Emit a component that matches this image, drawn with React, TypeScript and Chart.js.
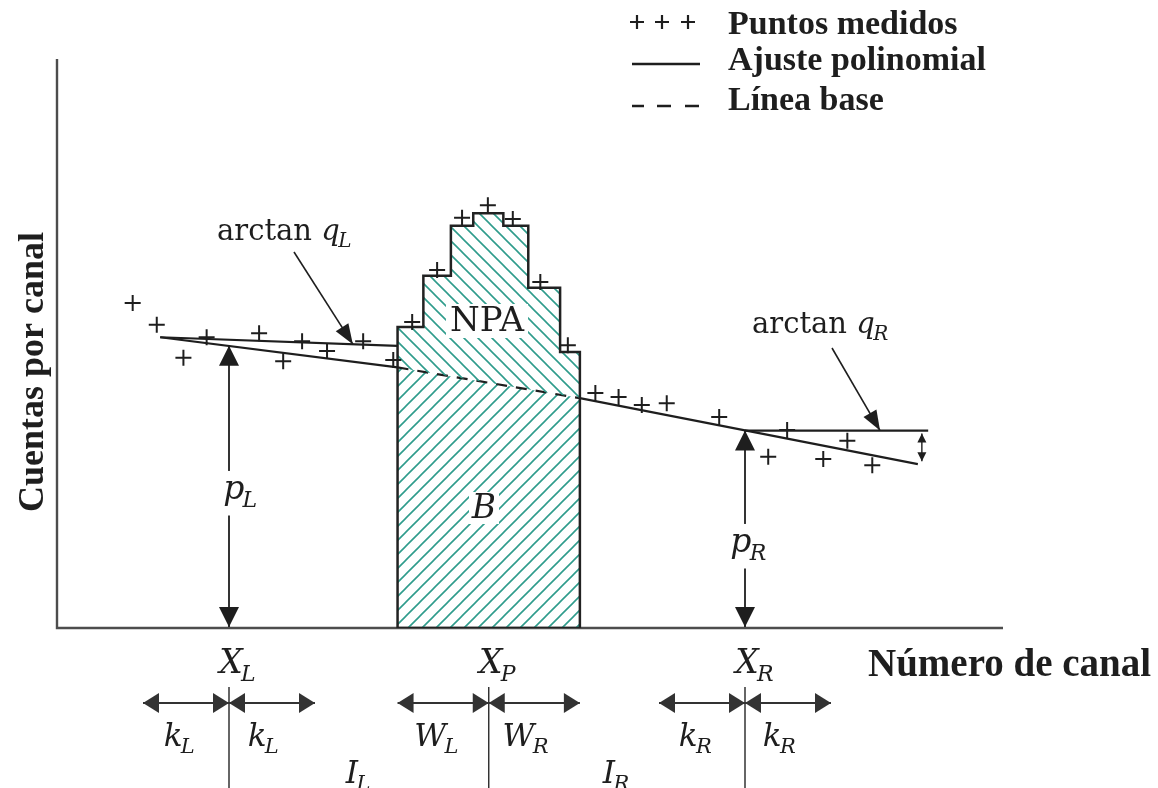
import { useEffect, useRef } from 'react';
import { Chart, registerables } from 'chart.js';

Chart.register(...registerables);

// ---- Measured spectrum (channel number, counts per channel) ----
const measuredChannels = [
  8.8, 11.6, 14.7, 17.4, 23.5, 26.3, 28.5, 31.4, 35.6, 39.1,
  41.3, 44.2, 47.1, 50.1, 53.0, 56.2, 59.4,
  62.6, 65.3, 68.0, 70.9, 77.0, 82.7, 84.9, 89.1, 91.9, 94.8,
];
const measuredCounts = [
  57.1, 53.3, 47.5, 51.1, 51.8, 46.9, 50.4, 48.7, 50.4, 47.1,
  53.8, 62.9, 72.1, 74.3, 71.9, 60.8, 49.7,
  41.3, 40.6, 39.2, 39.5, 37.1, 30.1, 34.8, 29.7, 32.9, 28.6,
];

// ---- Peak histogram: channel edges and counts of each bin ----
const peakEdges = [39.6, 42.6, 45.8, 48.4, 51.9, 54.8, 58.5, 60.8];
const peakCounts = [52.9, 61.9, 70.7, 72.9, 70.7, 59.8, 48.5];

// ---- Baseline under the peak ----
const baseChannels = [39.6, 60.8];
const baseCounts = [45.8, 40.4];

// ---- Polynomial fits left and right of the peak ----
const leftFitChannels = [12.0, 39.6];
const leftFitCounts = [51.1, 45.8];
const leftSlopeCounts = [51.1, 49.6];
const rightFitChannels = [60.8, 100.1];
const rightFitCounts = [40.4, 28.8];
const rightSlopeChannels = [80.0, 101.3];

// ---- Reference channels and heights ----
const xL = 20.0;
const xP = 50.2;
const xR = 80.0;
const pL = 49.6;
const pR = 34.7;
const kL = 10;
const kR = 10;

const INK = '#1e1e1e';
const AXIS = '#4d4d4d';
const HATCH = '#2f9c8c';
const SERIF = "'DejaVu Serif', serif";
const TIMES = "'Liberation Serif', 'Times New Roman', serif";

function makeHatch(dir: '/' | '\\', s: number, color: string) {
  const c = document.createElement('canvas');
  c.width = s;
  c.height = s;
  const g = c.getContext('2d')!;
  g.strokeStyle = color;
  g.lineWidth = 1.6;
  g.beginPath();
  if (dir === '/') {
    g.moveTo(-1, s + 1); g.lineTo(s + 1, -1);
    g.moveTo(-2, 2); g.lineTo(2, -2);
    g.moveTo(s - 2, s + 2); g.lineTo(s + 2, s - 2);
  } else {
    g.moveTo(-1, -1); g.lineTo(s + 1, s + 1);
    g.moveTo(s - 2, -2); g.lineTo(s + 2, 2);
    g.moveTo(-2, s - 2); g.lineTo(2, s + 2);
  }
  g.stroke();
  return g.createPattern(c, 'repeat')!;
}

function head(ctx: CanvasRenderingContext2D, tx: number, ty: number, fx: number, fy: number, len: number, hw: number) {
  const a = Math.atan2(ty - fy, tx - fx);
  const bx = tx - len * Math.cos(a);
  const by = ty - len * Math.sin(a);
  const nx = -Math.sin(a) * hw;
  const ny = Math.cos(a) * hw;
  ctx.beginPath();
  ctx.moveTo(tx, ty);
  ctx.lineTo(bx + nx, by + ny);
  ctx.lineTo(bx - nx, by - ny);
  ctx.closePath();
  ctx.fill();
}

function arrowLine(
  ctx: CanvasRenderingContext2D,
  x1: number, y1: number, x2: number, y2: number,
  o: { start?: boolean; end?: boolean; len: number; hw: number; width: number; color?: string },
) {
  ctx.strokeStyle = o.color || INK;
  ctx.fillStyle = o.color || INK;
  ctx.lineWidth = o.width;
  ctx.beginPath();
  ctx.moveTo(x1, y1);
  ctx.lineTo(x2, y2);
  ctx.stroke();
  if (o.end) head(ctx, x2, y2, x1, y1, o.len, o.hw);
  if (o.start) head(ctx, x1, y1, x2, y2, o.len, o.hw);
}

// italic symbol with subscript, optionally preceded by upright text
function mathLabel(
  ctx: CanvasRenderingContext2D,
  main: string, sub: string, x: number, baseline: number, size: number,
  o: { prefix?: string; align?: 'left' | 'center' | 'main'; bg?: boolean } = {},
) {
  const prefixFont = `${size}px ${SERIF}`;
  const mainFont = `italic ${size}px ${SERIF}`;
  const subSize = Math.round(size * 0.68);
  const subFont = `italic ${subSize}px ${SERIF}`;
  ctx.font = prefixFont;
  const wp = o.prefix ? ctx.measureText(o.prefix).width : 0;
  ctx.font = mainFont;
  const wm = ctx.measureText(main).width;
  ctx.font = subFont;
  const ws = ctx.measureText(sub).width;
  const total = wp + wm + ws;
  let sx = x;
  if (o.align === 'center') sx = x - total / 2;
  if (o.align === 'main') sx = x - wm / 2;
  if (o.bg) {
    ctx.fillStyle = '#fff';
    ctx.fillRect(sx - 5, baseline - size * 0.85, total + 10, size * 1.35);
  }
  ctx.fillStyle = INK;
  ctx.textAlign = 'left';
  ctx.textBaseline = 'alphabetic';
  if (o.prefix) {
    ctx.font = prefixFont;
    ctx.fillText(o.prefix, sx, baseline);
    sx += wp;
  }
  ctx.font = mainFont;
  ctx.fillText(main, sx, baseline);
  sx += wm - size * 0.05;
  ctx.font = subFont;
  ctx.fillText(sub, sx, baseline + size * 0.24);
}

const diagramPlugin = {
  id: 'spectrumDiagram',
  beforeDatasetsDraw(chart: any) {
    const { ctx, chartArea, scales } = chart;
    const x0 = scales.x.getPixelForValue(0);
    const y0 = scales.y.getPixelForValue(0);
    ctx.save();
    ctx.strokeStyle = AXIS;
    ctx.lineWidth = 2.4;
    ctx.beginPath();
    ctx.moveTo(x0, chartArea.top);
    ctx.lineTo(x0, y0);
    ctx.lineTo(chartArea.right, y0);
    ctx.stroke();
    ctx.restore();
  },
  afterDatasetsDraw(chart: any) {
    const { ctx, scales } = chart;
    const px = (v: number) => scales.x.getPixelForValue(v);
    const py = (v: number) => scales.y.getPixelForValue(v);
    ctx.save();

    // p_L and p_R heights
    const heights: [number, number, string, number, number][] = [
      [xL, pL, 'L', 12, 499],
      [xR, pR, 'R', 4, 552],
    ];
    for (const [cx, h, s, dx, bl] of heights) {
      arrowLine(ctx, px(cx), py(h), px(cx), py(0) - 1, { start: true, end: true, len: 20, hw: 10, width: 1.8 });
      mathLabel(ctx, 'p', s, px(cx) + dx, bl, 33, { align: 'center', bg: true });
    }

    // slope indicators
    const tipL = 34.4;
    const tipLy = leftSlopeCounts[0] + (leftSlopeCounts[1] - leftSlopeCounts[0]) * (tipL - leftFitChannels[0]) / (leftFitChannels[1] - leftFitChannels[0]);
    arrowLine(ctx, 294, 252, px(tipL), py(tipLy), { end: true, len: 20, hw: 7.5, width: 1.6 });
    arrowLine(ctx, 832, 348, px(95.7), py(pR), { end: true, len: 20, hw: 7.5, width: 1.6 });
    mathLabel(ctx, 'q', 'L', 217, 240, 29, { prefix: 'arctan ' });
    mathLabel(ctx, 'q', 'R', 752, 333, 29, { prefix: 'arctan ' });

    // small angle marker at the right end
    const ax = px(rightFitChannels[1]) + 4;
    arrowLine(ctx, ax, py(pR) + 3, ax, py(rightFitCounts[1]) - 3, { start: true, end: true, len: 9, hw: 4.5, width: 1.4 });

    // area labels
    ctx.font = `34px ${SERIF}`;
    ctx.textAlign = 'center';
    ctx.textBaseline = 'alphabetic';
    const npaW = ctx.measureText('NPA').width;
    ctx.fillStyle = '#fff';
    ctx.fillRect(487 - npaW / 2 - 4, 304, npaW + 8, 34);
    ctx.fillStyle = INK;
    ctx.fillText('NPA', 487, 331);
    ctx.font = `italic 33px ${SERIF}`;
    ctx.fillStyle = '#fff';
    ctx.fillRect(469, 492, 30, 32);
    ctx.fillStyle = INK;
    ctx.fillText('B', 484, 518);

    // channel markers below the axis
    const marks: [number, string][] = [[xL, 'L'], [xP, 'P'], [xR, 'R']];
    for (const [cx, s] of marks) {
      mathLabel(ctx, 'X', s, px(cx) + 2, 673, 33, { align: 'main' });
      ctx.strokeStyle = '#333';
      ctx.lineWidth = 1.5;
      ctx.beginPath();
      ctx.moveTo(px(cx), 687);
      ctx.lineTo(px(cx), 788);
      ctx.stroke();
    }

    // window widths
    const dims: [number, number, number, string, string, string][] = [
      [xL, kL, kL, 'k', 'L', 'L'],
      [xP, xP - peakEdges[0], peakEdges[peakEdges.length - 1] - xP, 'W', 'L', 'R'],
      [xR, kR, kR, 'k', 'R', 'R'],
    ];
    const dy = 703;
    for (const [c, lw, rw, sym, s1, s2] of dims) {
      const xc = px(c);
      const xl = px(c - lw);
      const xr = px(c + rw);
      arrowLine(ctx, xl, dy, xc, dy, { start: true, end: true, len: 16, hw: 10, width: 2, color: '#333' });
      arrowLine(ctx, xc, dy, xr, dy, { start: true, end: true, len: 16, hw: 10, width: 2, color: '#333' });
      mathLabel(ctx, sym, s1, (xl + xc) / 2 - 6, 746, 31, { align: 'center' });
      mathLabel(ctx, sym, s2, (xc + xr) / 2 - 8, 746, 31, { align: 'center' });
    }
    mathLabel(ctx, 'I', 'L', (px(xL) + px(xP)) / 2, 783, 31, { align: 'center' });
    mathLabel(ctx, 'I', 'R', (px(xP) + px(xR)) / 2, 783, 31, { align: 'center' });

    // axis titles
    ctx.fillStyle = INK;
    ctx.font = `bold 39px ${TIMES}`;
    ctx.textAlign = 'left';
    ctx.fillText('Número de canal', 868, 676);
    ctx.save();
    ctx.translate(43, 372);
    ctx.rotate(-Math.PI / 2);
    ctx.font = `bold 36px ${TIMES}`;
    ctx.textAlign = 'center';
    ctx.fillText('Cuentas por canal', 0, 0);
    ctx.restore();

    // legend
    ctx.strokeStyle = INK;
    ctx.lineWidth = 2.2;
    for (const lx of [637, 662, 688]) {
      ctx.beginPath();
      ctx.moveTo(lx - 7, 22); ctx.lineTo(lx + 7, 22);
      ctx.moveTo(lx, 15); ctx.lineTo(lx, 29);
      ctx.stroke();
    }
    ctx.lineWidth = 2.5;
    ctx.beginPath();
    ctx.moveTo(632, 64); ctx.lineTo(700, 64);
    ctx.stroke();
    ctx.beginPath();
    for (const [a, b] of [[632, 644], [657, 671], [685, 699]]) {
      ctx.moveTo(a, 106); ctx.lineTo(b, 106);
    }
    ctx.stroke();
    ctx.font = `bold 34px ${TIMES}`;
    ctx.textAlign = 'left';
    ctx.fillStyle = INK;
    ctx.fillText('Puntos medidos', 728, 34);
    ctx.fillText('Ajuste polinomial', 728, 70);
    ctx.fillText('Línea base', 728, 110);

    ctx.restore();
  },
};

export default function App() {
  const ref = useRef<HTMLCanvasElement>(null);

  useEffect(() => {
    const canvas = ref.current;
    if (!canvas) return;
    const slash = makeHatch('/', 14, HATCH);
    const backslash = makeHatch('\\', 14, HATCH);

    const points = measuredChannels.map((x, i) => ({ x, y: measuredCounts[i] }));
    const stepTop: { x: number; y: number }[] = [];
    peakCounts.forEach((c, i) => {
      stepTop.push({ x: peakEdges[i], y: c }, { x: peakEdges[i + 1], y: c });
    });
    const first = peakEdges[0];
    const last = peakEdges[peakEdges.length - 1];
    const outline = [{ x: first, y: 0 }, ...stepTop, { x: last, y: 0 }, { x: first, y: 0 }];
    const pair = (xs: number[], ys: number[]) => xs.map((x, i) => ({ x, y: ys[i] }));

    const lineStyle = { pointRadius: 0, fill: false, borderColor: INK, borderWidth: 2.2, tension: 0, order: 2 };

    const chart = new Chart(canvas, {
      type: 'line',
      data: {
        datasets: [
          {
            label: 'Puntos medidos',
            data: points,
            showLine: false,
            pointStyle: 'cross',
            pointRadius: 8,
            pointBorderWidth: 2,
            pointBorderColor: INK,
            borderColor: INK,
            order: 0,
          },
          {
            label: 'Línea base',
            data: pair(baseChannels, baseCounts),
            borderColor: INK,
            borderWidth: 2.2,
            borderDash: [11, 9],
            pointRadius: 0,
            fill: 'origin',
            backgroundColor: slash,
            order: 6,
          },
          {
            label: 'NPA',
            data: stepTop,
            borderColor: 'rgba(0,0,0,0)',
            borderWidth: 0,
            pointRadius: 0,
            fill: 1,
            backgroundColor: backslash,
            order: 5,
          },
          {
            label: 'Pico',
            data: outline,
            borderColor: '#222',
            borderWidth: 2.5,
            pointRadius: 0,
            fill: false,
            order: 3,
          },
          { label: 'Ajuste izquierdo', data: pair(leftFitChannels, leftFitCounts), ...lineStyle },
          { label: 'Pendiente izquierda', data: pair(leftFitChannels, leftSlopeCounts), ...lineStyle },
          { label: 'Ajuste derecho', data: pair(rightFitChannels, rightFitCounts), ...lineStyle },
          { label: 'Pendiente derecha', data: pair(rightSlopeChannels, [pR, pR]), ...lineStyle },
        ] as any,
      },
      options: {
        animation: false,
        responsive: false,
        events: [],
        layout: { padding: { left: 57, top: 59, right: 155, bottom: 160 } },
        scales: {
          x: { type: 'linear', min: 0, max: 110, display: false },
          y: { type: 'linear', min: 0, max: 100, display: false },
        },
        plugins: { legend: { display: false }, tooltip: { enabled: false } },
      },
      plugins: [diagramPlugin],
    });
    return () => chart.destroy();
  }, []);

  return (
    <div style={{ position: 'fixed', left: 0, top: 0, width: 1158, height: 788, background: '#fff' }}>
      <canvas ref={ref} width={1158} height={788} style={{ display: 'block', width: 1158, height: 788 }} />
    </div>
  );
}
